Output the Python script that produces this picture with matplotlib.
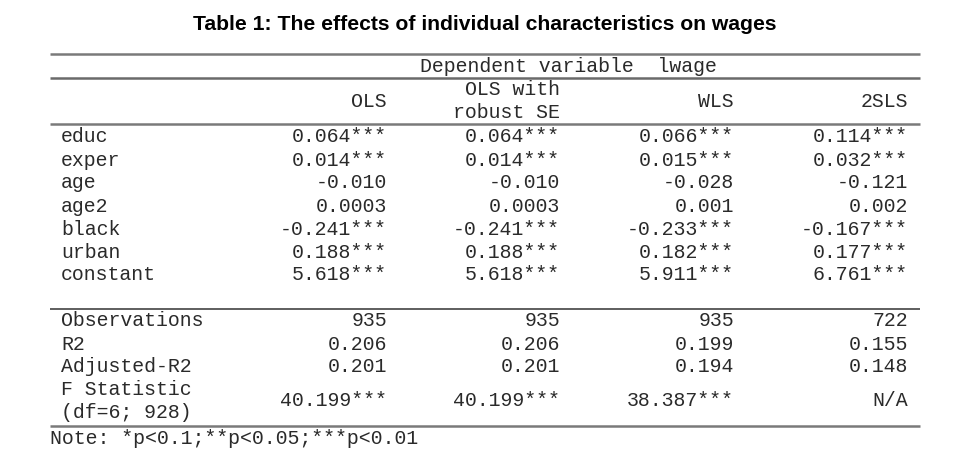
import matplotlib
matplotlib.use("Agg")
import matplotlib.pyplot as plt

title = "Table 1: The effects of individual characteristics on wages"
dep_header = "Dependent variable  lwage"
model_names = [["OLS"], ["OLS with", "robust SE"], ["WLS"], ["2SLS"]]
variables = ["educ", "exper", "age", "age2", "black", "urban", "constant"]
ols = ["0.064***", "0.014***", "-0.010", "0.0003", "-0.241***", "0.188***", "5.618***"]
ols_robust = ["0.064***", "0.014***", "-0.010", "0.0003", "-0.241***", "0.188***", "5.618***"]
wls = ["0.066***", "0.015***", "-0.028", "0.001", "-0.233***", "0.182***", "5.911***"]
tsls = ["0.114***", "0.032***", "-0.121", "0.002", "-0.167***", "0.177***", "6.761***"]
stat_labels = [["Observations"], ["R2"], ["Adjusted-R2"], ["F Statistic", "(df=6; 928)"]]
stat_ols = ["935", "0.206", "0.201", "40.199***"]
stat_ols_robust = ["935", "0.206", "0.201", "40.199***"]
stat_wls = ["935", "0.199", "0.194", "38.387***"]
stat_tsls = ["722", "0.155", "0.148", "N/A"]
note = "Note: *p<0.1;**p<0.05;***p<0.01"

W, H = 960, 474
fig = plt.figure(figsize=(W / 100, H / 100), dpi=100)
ax = fig.add_axes([0, 0, 1, 1])
ax.set_xlim(0, W)
ax.set_ylim(H, 0)
ax.axis("off")

mono = dict(family="Liberation Mono", fontsize=14.3, color="#2a2a2a")

ax.text(485, 24, title, ha="center", va="center", family="Liberation Sans",
        fontweight="bold", fontsize=15.2, color="black")

x_left, x_right = 50, 920
label_x = 61
col_right = [387, 560, 734, 908]
line_h = 22.5

# rules
for y, c, lw in [(54, "#7a7a7a", 1.8), (78, "#6a6a6a", 1.8), (124, "#7a7a7a", 1.8),
                 (309, "#333333", 1.1), (426, "#7a7a7a", 1.8)]:
    ax.plot([x_left, x_right], [y, y], color=c, lw=lw, solid_capstyle="butt")

# header
ax.text(420, 66, dep_header, ha="left", va="center", **mono)
header_center = 101
for xr, lines in zip(col_right, model_names):
    n = len(lines)
    for k, s in enumerate(lines):
        y = header_center + (k - (n - 1) / 2) * line_h
        ax.text(xr, y, s, ha="right", va="center", **mono)

# coefficients
coef_y0, coef_step = 137, 23
cols = [ols, ols_robust, wls, tsls]
for i, v in enumerate(variables):
    y = coef_y0 + i * coef_step
    ax.text(label_x, y, v, ha="left", va="center", **mono)
    for xr, col in zip(col_right, cols):
        ax.text(xr, y, col[i], ha="right", va="center", **mono)

# statistics
stat_centers = [321, 344, 367, 401]
scols = [stat_ols, stat_ols_robust, stat_wls, stat_tsls]
for i, lab in enumerate(stat_labels):
    yc = stat_centers[i]
    n = len(lab)
    for k, s in enumerate(lab):
        y = yc + (k - (n - 1) / 2) * line_h
        ax.text(label_x, y, s, ha="left", va="center", **mono)
    for xr, col in zip(col_right, scols):
        ax.text(xr, yc, col[i], ha="right", va="center", **mono)

ax.text(50, 438, note, ha="left", va="center", **mono)

fig.savefig("out.png", dpi=100, facecolor="white")
